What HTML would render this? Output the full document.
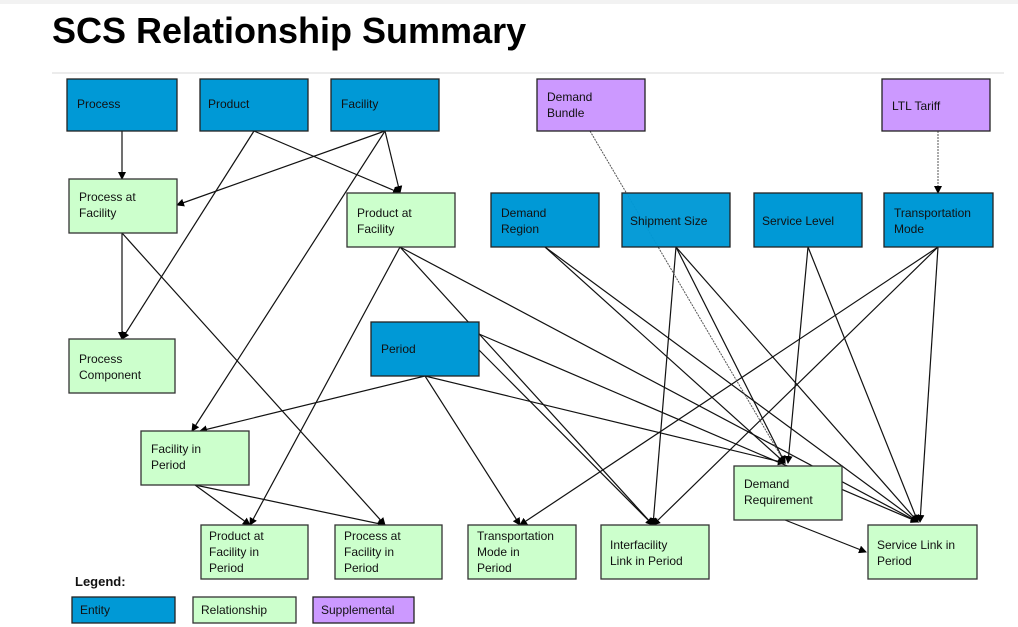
<!DOCTYPE html>
<html><head><meta charset="utf-8"><style>
body{margin:0;background:#fff;}
svg{display:block;font-family:"Liberation Sans",sans-serif;}
.e{fill:#0099d6;stroke:#222;stroke-width:1.3}
.r{fill:#ccffcc;stroke:#333;stroke-width:1.3}
.s{fill:#cc99ff;stroke:#222;stroke-width:1.3}
text{font-size:12px;fill:#111}
line{stroke:#111;stroke-width:1.2}
.d{stroke:#555;stroke-dasharray:2 1;stroke-width:1}
</style></head><body>
<svg width="1018" height="627" viewBox="0 0 1018 627">
<defs><marker id="a" markerWidth="8" markerHeight="8" refX="7" refY="4" orient="auto" markerUnits="userSpaceOnUse"><path d="M0,0 L8,4 L0,8z" fill="#000"/></marker></defs>
<rect x="0" y="0" width="1018" height="4" fill="#f2f2f2"/>
<text x="52" y="43" style="font-size:36px;font-weight:bold;fill:#000">SCS Relationship Summary</text>
<line x1="52" y1="73" x2="1004" y2="73" style="stroke:#e6e6e6;stroke-width:1.5"/>
<g marker-end="url(#a)">
<line x1="122" y1="131" x2="122" y2="179"/>
<line x1="254" y1="131" x2="122" y2="339"/>
<line x1="254" y1="131" x2="400" y2="193"/>
<line x1="385" y1="131" x2="177" y2="205"/>
<line x1="385" y1="131" x2="400" y2="193"/>
<line x1="385" y1="131" x2="192" y2="431"/>
<line x1="122" y1="233" x2="122" y2="339"/>
<line x1="122" y1="233" x2="385" y2="525"/>
<line x1="400" y1="247" x2="250" y2="525"/>
<line x1="400" y1="247" x2="653" y2="525"/>
<line x1="400" y1="247" x2="918" y2="522"/>
<line x1="425" y1="376" x2="200" y2="431"/>
<line x1="425" y1="376" x2="520" y2="525"/>
<line x1="425" y1="376" x2="785" y2="463"/>
<line x1="479" y1="350" x2="653" y2="525"/>
<line x1="479" y1="334" x2="918" y2="522"/>
<line x1="545" y1="247" x2="785" y2="463"/>
<line x1="545" y1="247" x2="918" y2="522"/>
<line x1="676" y1="247" x2="653" y2="525"/>
<line x1="676" y1="247" x2="785" y2="463"/>
<line x1="676" y1="247" x2="918" y2="522"/>
<line x1="808" y1="247" x2="788" y2="463"/>
<line x1="808" y1="247" x2="918" y2="522"/>
<line x1="938" y1="247" x2="520" y2="525"/>
<line x1="938" y1="247" x2="653" y2="525"/>
<line x1="938" y1="247" x2="920" y2="522"/>
<line x1="195" y1="485" x2="250" y2="525"/>
<line x1="195" y1="485" x2="385" y2="525"/>
<line x1="785" y1="520" x2="866" y2="552"/>
<line class="d" x1="938" y1="131" x2="938" y2="193"/>
<line class="d" x1="590" y1="131" x2="785" y2="463"/>
</g>
<rect class="e" x="67" y="79" width="110" height="52"/><text x="77" y="108">Process</text>
<rect class="e" x="200" y="79" width="108" height="52"/><text x="208" y="108">Product</text>
<rect class="e" x="331" y="79" width="108" height="52"/><text x="341" y="108">Facility</text>
<rect class="s" x="537" y="79" width="108" height="52"/><text x="547" y="101">Demand</text><text x="547" y="117">Bundle</text>
<rect class="s" x="882" y="79" width="108" height="52"/><text x="892" y="110">LTL Tariff</text>
<rect class="r" x="69" y="179" width="108" height="54"/><text x="79" y="201">Process at</text><text x="79" y="217">Facility</text>
<rect class="r" x="347" y="193" width="108" height="54"/><text x="357" y="217">Product at</text><text x="357" y="233">Facility</text>
<rect class="e" x="491" y="193" width="108" height="54"/><text x="501" y="217">Demand</text><text x="501" y="233">Region</text>
<rect class="e" x="622" y="193" width="108" height="54" style="fill-opacity:0.97"/><text x="630" y="225">Shipment Size</text>
<rect class="e" x="754" y="193" width="108" height="54"/><text x="762" y="225">Service Level</text>
<rect class="e" x="884" y="193" width="109" height="54"/><text x="894" y="217">Transportation</text><text x="894" y="233">Mode</text>
<rect class="r" x="69" y="339" width="106" height="54"/><text x="79" y="363">Process</text><text x="79" y="379">Component</text>
<rect class="e" x="371" y="322" width="108" height="54"/><text x="381" y="353">Period</text>
<rect class="r" x="141" y="431" width="108" height="54"/><text x="151" y="453">Facility in</text><text x="151" y="469">Period</text>
<rect class="r" x="734" y="466" width="108" height="54"/><text x="744" y="488">Demand</text><text x="744" y="504">Requirement</text>
<rect class="r" x="201" y="525" width="107" height="54"/><text x="209" y="540">Product at</text><text x="209" y="556">Facility in</text><text x="209" y="572">Period</text>
<rect class="r" x="335" y="525" width="107" height="54"/><text x="344" y="540">Process at</text><text x="344" y="556">Facility in</text><text x="344" y="572">Period</text>
<rect class="r" x="468" y="525" width="108" height="54"/><text x="477" y="540">Transportation</text><text x="477" y="556">Mode in</text><text x="477" y="572">Period</text>
<rect class="r" x="601" y="525" width="108" height="54"/><text x="610" y="549">Interfacility</text><text x="610" y="565">Link in Period</text>
<rect class="r" x="868" y="525" width="109" height="54"/><text x="877" y="549">Service Link in</text><text x="877" y="565">Period</text>
<text x="75" y="586" style="font-weight:bold;font-size:13px">Legend:</text>
<rect class="e" x="72" y="597" width="103" height="26"/><text x="80" y="614">Entity</text>
<rect class="r" x="193" y="597" width="103" height="26"/><text x="201" y="614">Relationship</text>
<rect class="s" x="313" y="597" width="101" height="26"/><text x="321" y="614">Supplemental</text>
</svg>
</body></html>
